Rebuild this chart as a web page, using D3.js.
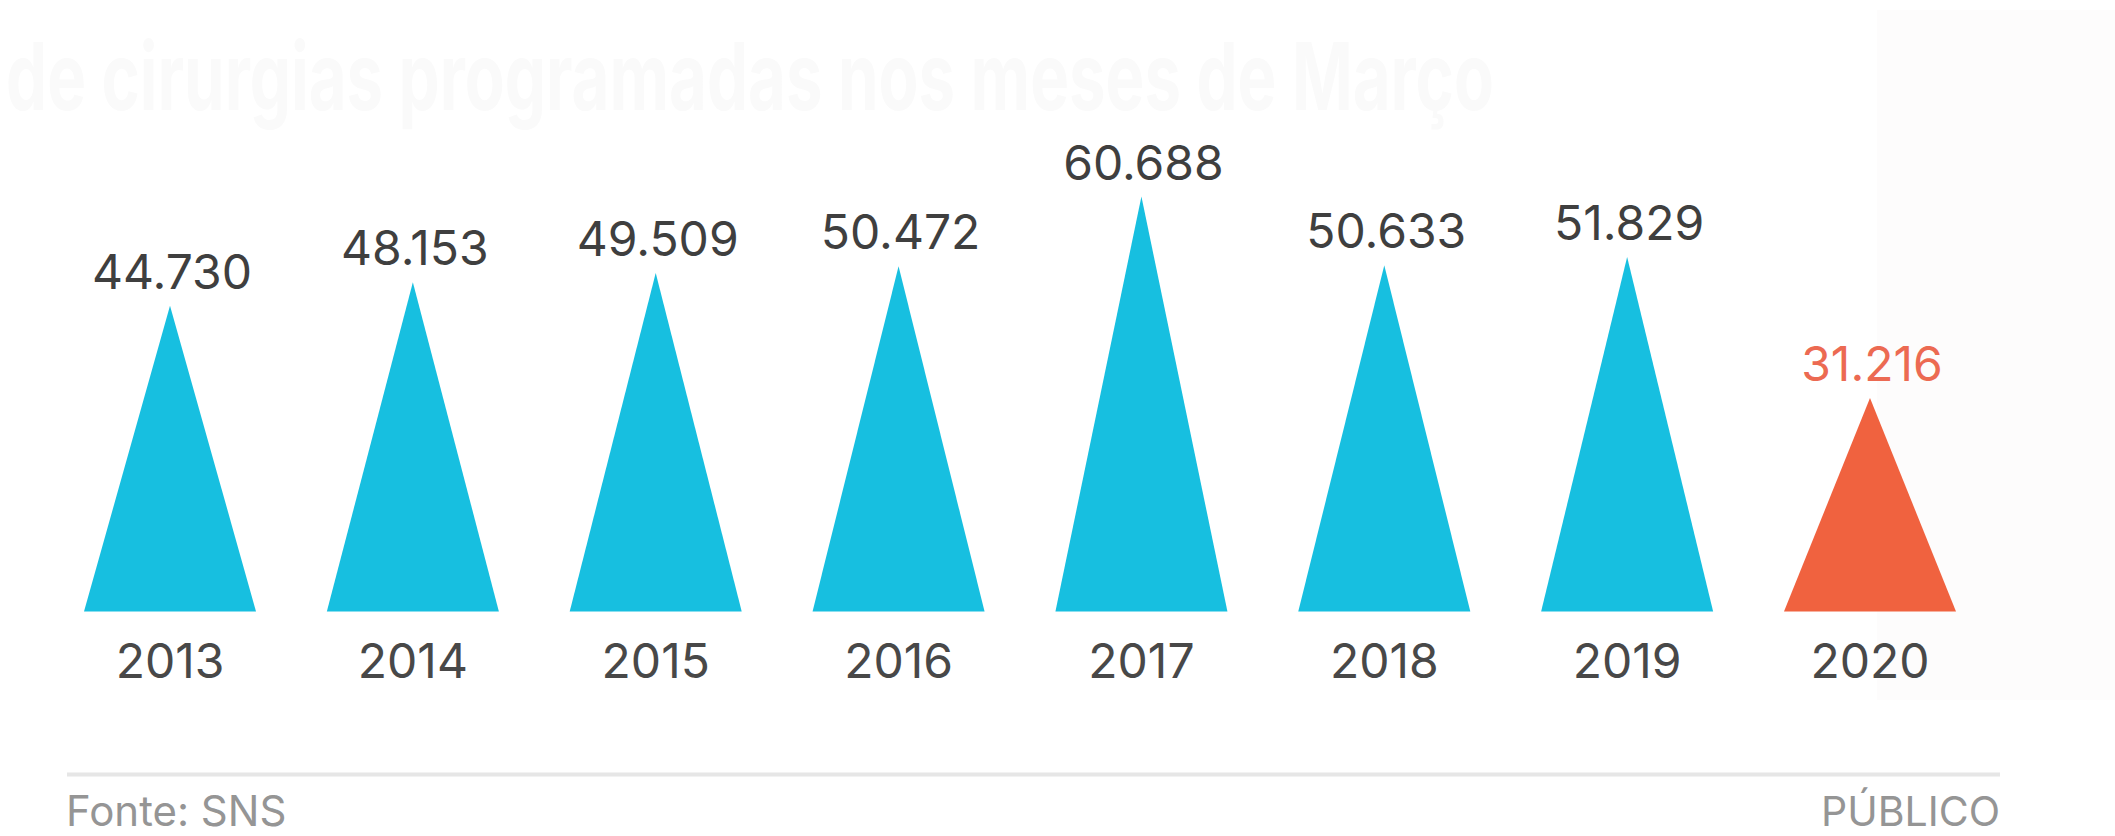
<!DOCTYPE html>
<html>
<head>
<meta charset="utf-8">
<script src="https://cdn.jsdelivr.net/npm/d3@7"></script>
<style>
  html, body { margin: 0; padding: 0; background: #ffffff; }
  svg { display: block; }
  text { font-family: Inter, "Noto Sans", sans-serif; }
</style>
</head>
<body>
<div id="chart"></div>
<script>
// ---- data ----
const years = ["2013", "2014", "2015", "2016", "2017", "2018", "2019", "2020"];
const values = [44730, 48153, 49509, 50472, 60688, 50633, 51829, 31216];
const valueLabels = ["44.730", "48.153", "49.509", "50.472", "60.688", "50.633", "51.829", "31.216"];
const highlightYear = "2020";
const ghostTitle = "de cirurgias programadas nos meses de Março";
const sourceText = "Fonte: SNS";
const brandText = "PÚBLICO";

// ---- layout ----
const W = 2115, H = 836;
const baseline = 611.5;
const blue = "#17bfe0", red = "#f0623f";

const svg = d3.select("#chart").append("svg")
  .attr("width", W).attr("height", H);

svg.append("rect").attr("width", W).attr("height", H).attr("fill", "#ffffff");
// faint background panel at right (artifact of the original)
svg.append("rect").attr("x", 1877).attr("y", 10).attr("width", W - 1877).attr("height", 690)
  .attr("fill", "#fdfcfc");

// ghost title (very faint in the original)
svg.append("text")
  .attr("transform", "translate(6,110) scale(1,1.62)")
  .attr("textLength", 1488).attr("lengthAdjust", "spacingAndGlyphs")
  .attr("font-size", 58).attr("font-weight", 700)
  .attr("fill", "#fafafa")
  .text(ghostTitle);

const x = d3.scaleBand().domain(years).range([84, 1956]).paddingInner(0.2917).paddingOuter(0);
const y = d3.scaleLinear().domain([0, 60688]).range([baseline, 196.5]);

const data = years.map((yr, i) => ({ year: yr, value: values[i], label: valueLabels[i] }));

const tri = d3.line();
svg.append("g").selectAll("path").data(data).join("path")
  .attr("d", d => {
    const x0 = x(d.year), x1 = x0 + x.bandwidth(), xc = x0 + x.bandwidth() / 2;
    return tri([[x0, y(0)], [xc, y(d.value)], [x1, y(0)]]) + "Z";
  })
  .attr("fill", d => d.year === highlightYear ? red : blue);

// value labels
svg.append("g").selectAll("text").data(data).join("text")
  .attr("x", d => x(d.year) + x.bandwidth() / 2 + 2)
  .attr("y", d => y(d.value) - 17)
  .attr("text-anchor", "middle")
  .attr("font-size", 48)
  .attr("fill", d => d.year === highlightYear ? "#ec6a52" : "#3f3f3f")
  .text(d => d.label);

// year axis labels
const xAxis = d3.axisBottom(x).tickSize(0).tickPadding(0);
const gx = svg.append("g").attr("transform", `translate(0,${baseline})`).call(xAxis);
gx.select(".domain").remove();
gx.selectAll(".tick text")
  .attr("dy", 0)
  .attr("y", 66)
  .attr("font-size", 48)
  .attr("font-family", "Inter, 'Noto Sans', sans-serif")
  .attr("fill", "#484848");

// footer rule
svg.append("line")
  .attr("x1", 67).attr("x2", 2000).attr("y1", 774.5).attr("y2", 774.5)
  .attr("stroke", "#e6e6e6").attr("stroke-width", 4);

svg.append("text").attr("x", 66).attr("y", 826)
  .attr("font-size", 42).attr("fill", "#959595").text(sourceText);
svg.append("text").attr("x", 2000).attr("y", 826).attr("text-anchor", "end")
  .attr("font-size", 41).attr("fill", "#959595").text(brandText);
</script>
</body>
</html>
